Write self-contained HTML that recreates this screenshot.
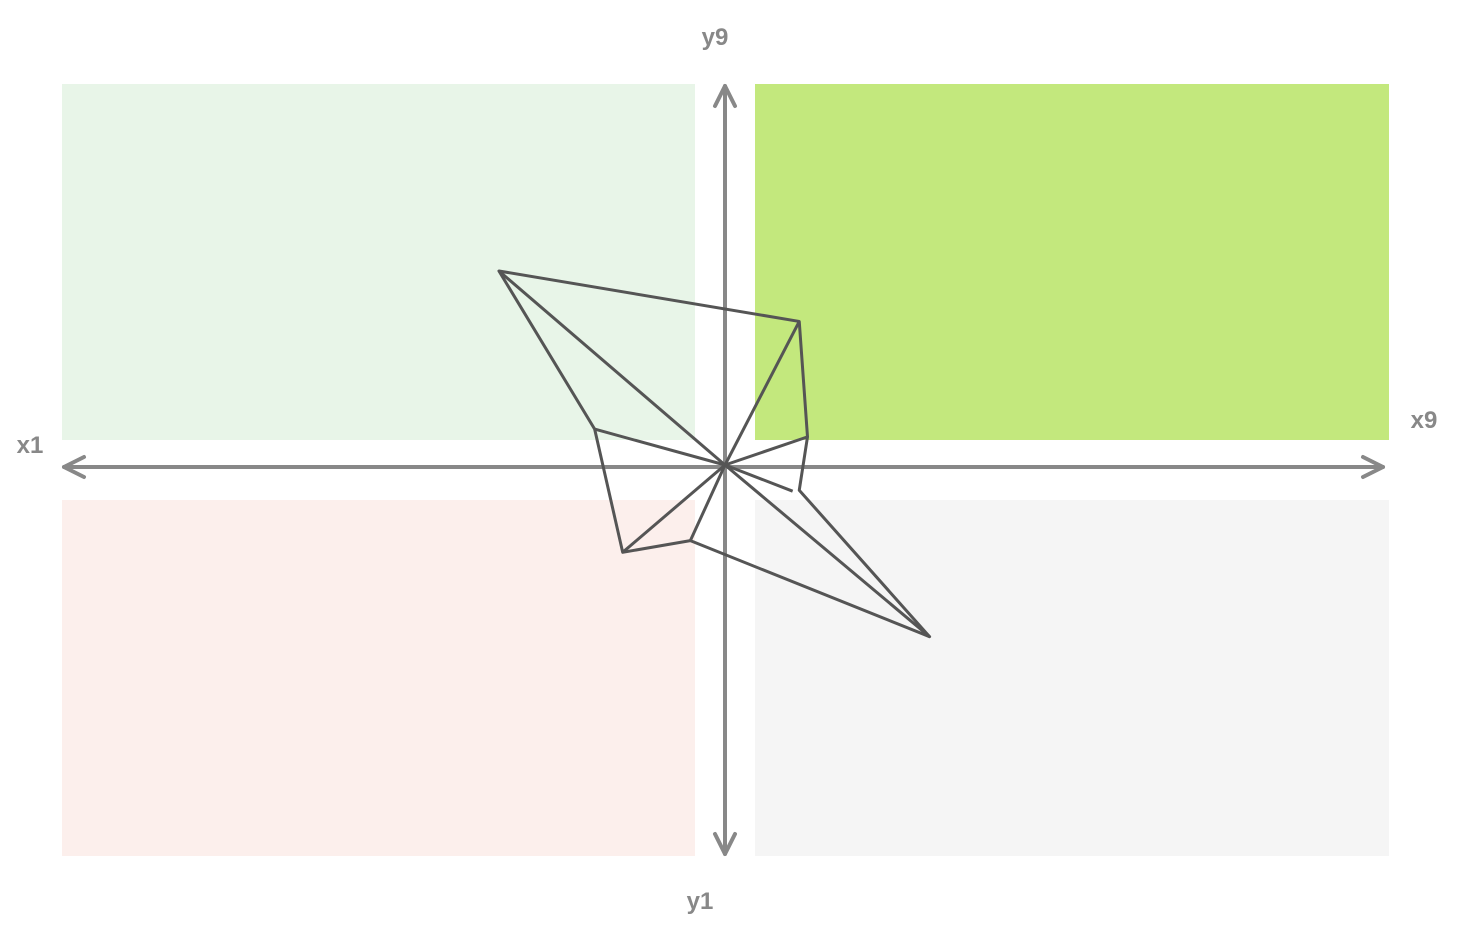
<!DOCTYPE html>
<html><head><meta charset="utf-8"><style>
html,body{margin:0;padding:0;background:#fff;}
svg{display:block;font-family:"Liberation Sans",sans-serif;}
</style></head><body>
<svg id="chart" width="1472" height="936">
<rect x="62" y="84" width="633" height="356" fill="#e8f5e8"/>
<rect x="755" y="84" width="634" height="356" fill="#c3e87d"/>
<rect x="62" y="500" width="633" height="356" fill="#fcefec"/>
<rect x="755" y="500" width="634" height="356" fill="#f5f5f5"/>
<g stroke="#888" stroke-width="4" fill="none" stroke-linecap="round" stroke-linejoin="round">
<line x1="64" y1="467" x2="1383" y2="467"/>
<polyline points="84,457 64,467 84,477"/>
<polyline points="1363,457 1383,467 1363,477"/>
<line x1="725" y1="86" x2="725" y2="854"/>
<polyline points="715,106 725,86 735,106"/>
<polyline points="715,834 725,854 735,834"/>
</g>
<g fill="#888" font-size="24" font-weight="bold">
<text x="715" y="45" text-anchor="middle">y9</text>
<text x="700" y="909" text-anchor="middle">y1</text>
<text x="1424" y="428" text-anchor="middle">x9</text>
<text x="30" y="453" text-anchor="middle">x1</text>
</g>
<g id="shape"></g>
</svg>
<script>
const pointX = [3.63, 5.45, 5.50, 5.45, 6.24, 4.79, 4.38, 4.21];
const pointY = [7.00, 6.48, 5.29, 4.74, 3.23, 4.22, 4.10, 5.37];
const spokeX = [3.63, 5.45, 5.50, 5.41, 6.24, 4.79, 4.38, 4.21];
const spokeY = [7.00, 6.48, 5.29, 4.73, 3.23, 4.22, 4.10, 5.37];
const centerX = 5, centerY = 5;
function xs(v){ return 725 + (v - 5) * 165; }
function ys(v){ return 465 - (v - 5) * 97; }
const g = document.getElementById('shape');
const NS = 'http://www.w3.org/2000/svg';
for (let i = 0; i < spokeX.length; i++) {
  const l = document.createElementNS(NS, 'line');
  l.setAttribute('x1', xs(centerX)); l.setAttribute('y1', ys(centerY));
  l.setAttribute('x2', xs(spokeX[i])); l.setAttribute('y2', ys(spokeY[i]));
  l.setAttribute('stroke', '#555'); l.setAttribute('stroke-width', '3');
  
  
  g.appendChild(l);
}
const poly = document.createElementNS(NS, 'polygon');
poly.setAttribute('points', pointX.map((x, i) => xs(x) + ',' + ys(pointY[i])).join(' '));
poly.setAttribute('fill', 'none'); poly.setAttribute('stroke', '#555'); poly.setAttribute('stroke-width', '3');
poly.setAttribute('stroke-linejoin', 'round');


g.appendChild(poly);
</script>
</body></html>
